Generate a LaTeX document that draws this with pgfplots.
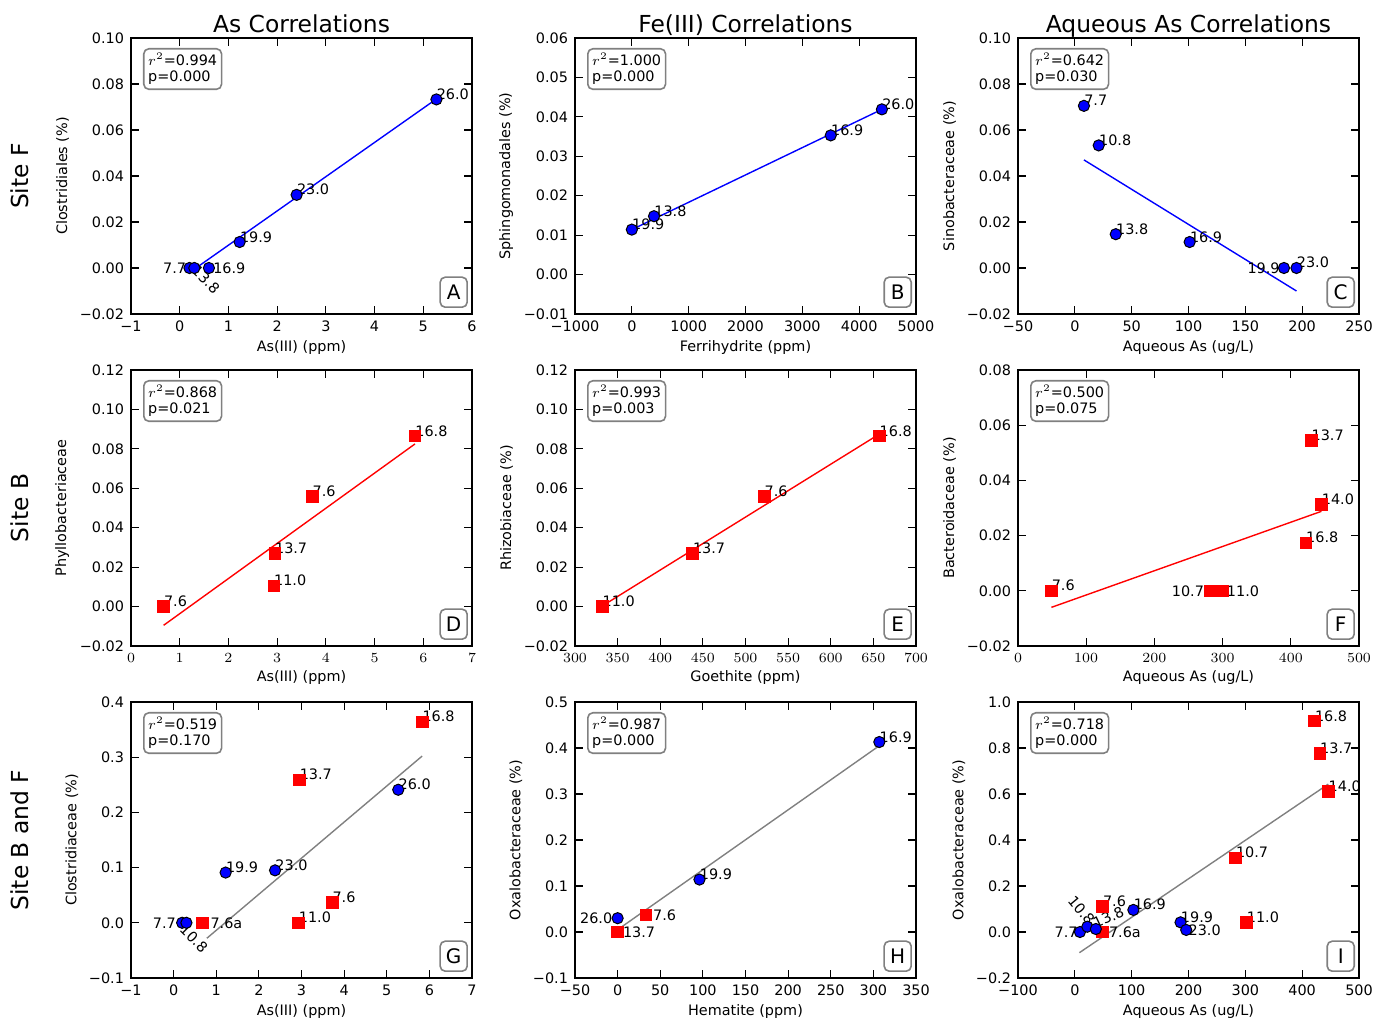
\documentclass[border=0pt]{standalone}
\usepackage{fontspec}
\setmainfont{DejaVu Sans}
\usepackage{pgfplots}
\pgfplotsset{compat=1.18}
\newcommand\sm{\fontsize{7.2}{8.1}\selectfont}
\newcommand\tfont{\fontsize{11.7}{14}\selectfont}
\newcommand\lfont{\fontsize{10}{12}\selectfont}
\pgfplotsset{
  panel/.style={
    width=170.5pt, height=138pt, scale only axis, anchor=north west,
    clip=false,
    axis line style={line width=0.8pt, black},
    every tick/.style={black, line width=0.6pt},
    major tick length=4pt,
    tick align=inside,
    ticklabel style={font=\sm},
    xlabel style={font=\sm, yshift=2.5pt},
    ylabel style={font=\sm, yshift=-1.5pt},
    title style={font=\tfont, at={(0.5,1)}, anchor=base, yshift=-3.4pt},
    scaled ticks=false,
  },
  bfit/.style={blue, line width=0.7pt, no marks},
  rfit/.style={red, line width=0.7pt, no marks},
  gfit/.style={gray, line width=0.7pt, no marks},
  bpt/.style={only marks, mark=*, mark size=2.8pt, mark options={fill=blue, draw=black, line width=0.5pt}},
  rpt/.style={only marks, mark=square*, mark size=2.9pt, mark options={fill=red, draw=red}},
}
\tikzset{
  lab/.style={font=\sm, inner sep=0pt, anchor=base west},
  rbox/.style={draw=gray, rounded corners=2.5pt, line width=0.8pt, anchor=north west, align=left, inner sep=2.2pt, font=\sm, xshift=6pt, yshift=-5pt},
  lbox/.style={draw=gray, rounded corners=2.5pt, line width=0.8pt, anchor=south east, font=\lfont, minimum width=13.5pt, minimum height=15pt, inner sep=0pt, xshift=-2pt, yshift=3pt},
  site/.style={font=\tfont, rotate=90},
}
\begin{document}
\begin{tikzpicture}
\useasboundingbox (0,0) rectangle (694.5pt,-510.5pt);

% ---------------- A
\begin{axis}[panel, at={(65.5pt,-19pt)}, title={As Correlations},
  xmin=-1, xmax=6, ymin=-0.02, ymax=0.10,
  xtick={-1,0,1,2,3,4,5,6}, xticklabels={−1,0,1,2,3,4,5,6},
  ytick={-0.02,0,0.02,0.04,0.06,0.08,0.10}, yticklabels={−0.02,0.00,0.02,0.04,0.06,0.08,0.10},
  xlabel={As(III) (ppm)}, ylabel={Clostridiales (\%)}]
\addplot[bfit] coordinates {(0.2,-0.0020) (5.27,0.0735)};
\addplot[bpt] coordinates {(0.2,0) (0.3,0) (0.6,0) (1.23,0.0113) (2.4,0.0318) (5.27,0.0733)};
\node[lab, anchor=east, xshift=-1.5pt] at (axis cs:0.2,0) {7.7};
\node[lab, anchor=west, rotate=-45] at (axis cs:0.3,0) {13.8};
\node[lab, anchor=west, xshift=2pt] at (axis cs:0.6,0) {16.9};
\node[lab] at (axis cs:1.23,0.0113) {19.9};
\node[lab] at (axis cs:2.4,0.0318) {23.0};
\node[lab] at (axis cs:5.27,0.0733) {26.0};
\node[rbox] at (rel axis cs:0,1) {$r^2$=0.994\\p=0.000};
\node[lbox] at (rel axis cs:1,0) {A};
\end{axis}

% ---------------- B
\begin{axis}[panel, at={(287.5pt,-19pt)}, title={Fe(III) Correlations},
  xmin=-1000, xmax=5000, ymin=-0.01, ymax=0.06,
  xtick={-1000,0,1000,2000,3000,4000,5000}, xticklabels={−1000,0,1000,2000,3000,4000,5000},
  ytick={-0.01,0,0.01,0.02,0.03,0.04,0.05,0.06}, yticklabels={−0.01,0.00,0.01,0.02,0.03,0.04,0.05,0.06},
  xlabel={Ferrihydrite (ppm)}, ylabel={Sphingomonadales (\%)}]
\addplot[bfit] coordinates {(0,0.0114) (4400,0.0419)};
\addplot[bpt] coordinates {(0,0.0114) (390,0.0148) (3500,0.0353) (4400,0.0419)};
\node[lab] at (axis cs:0,0.0114) {19.9};
\node[lab] at (axis cs:390,0.0148) {13.8};
\node[lab] at (axis cs:3500,0.0353) {16.9};
\node[lab] at (axis cs:4400,0.0419) {26.0};
\node[rbox] at (rel axis cs:0,1) {$r^2$=1.000\\p=0.000};
\node[lbox] at (rel axis cs:1,0) {B};
\end{axis}

% ---------------- C
\begin{axis}[panel, at={(509pt,-19pt)}, title={Aqueous As Correlations},
  xmin=-50, xmax=250, ymin=-0.02, ymax=0.10,
  xtick={-50,0,50,100,150,200,250}, xticklabels={−50,0,50,100,150,200,250},
  ytick={-0.02,0,0.02,0.04,0.06,0.08,0.10}, yticklabels={−0.02,0.00,0.02,0.04,0.06,0.08,0.10},
  xlabel={Aqueous As (ug/L)}, ylabel={Sinobacteraceae (\%)}]
\addplot[bfit] coordinates {(8,0.047) (195,-0.0100)};
\addplot[bpt] coordinates {(8,0.0705) (21,0.0533) (36,0.0147) (101,0.0113) (184,0) (195,0)};
\node[lab] at (axis cs:8,0.0705) {7.7};
\node[lab] at (axis cs:21,0.0533) {10.8};
\node[lab] at (axis cs:36,0.0147) {13.8};
\node[lab] at (axis cs:101,0.0113) {16.9};
\node[lab, anchor=east, xshift=-2pt] at (axis cs:184,0) {19.9};
\node[lab] at (axis cs:195,0) {23.0};
\node[rbox] at (rel axis cs:0,1) {$r^2$=0.642\\p=0.030};
\node[lbox] at (rel axis cs:1,0) {C};
\end{axis}

% ---------------- D
\begin{axis}[panel, at={(65.5pt,-185pt)},
  xmin=0, xmax=7, ymin=-0.02, ymax=0.12,
  xtick={0,1,2,3,4,5,6,7},
  ytick={-0.02,0,0.02,0.04,0.06,0.08,0.10,0.12}, yticklabels={−0.02,0.00,0.02,0.04,0.06,0.08,0.10,0.12},
  xlabel={As(III) (ppm)}, ylabel={Phyllobacteriaceae}]
\addplot[rfit] coordinates {(0.67,-0.0095) (5.83,0.0825)};
\addplot[rpt] coordinates {(0.67,0) (2.93,0.0105) (2.95,0.027) (3.72,0.056) (5.83,0.0865)};
\node[lab] at (axis cs:0.67,0) {7.6};
\node[lab] at (axis cs:2.93,0.0105) {11.0};
\node[lab] at (axis cs:2.95,0.027) {13.7};
\node[lab] at (axis cs:3.72,0.056) {7.6};
\node[lab] at (axis cs:5.83,0.0865) {16.8};
\node[rbox] at (rel axis cs:0,1) {$r^2$=0.868\\p=0.021};
\node[lbox] at (rel axis cs:1,0) {D};
\end{axis}

% ---------------- E
\begin{axis}[panel, at={(287.5pt,-185pt)},
  xmin=300, xmax=700, ymin=-0.02, ymax=0.12,
  xtick={300,350,400,450,500,550,600,650,700},
  ytick={-0.02,0,0.02,0.04,0.06,0.08,0.10,0.12}, yticklabels={−0.02,0.00,0.02,0.04,0.06,0.08,0.10,0.12},
  xlabel={Goethite (ppm)}, ylabel={Rhizobiaceae (\%)}]
\addplot[rfit] coordinates {(332,0.0003) (657,0.0875)};
\addplot[rpt] coordinates {(332,0) (438,0.027) (522,0.056) (657,0.0865)};
\node[lab] at (axis cs:332,0) {11.0};
\node[lab] at (axis cs:438,0.027) {13.7};
\node[lab] at (axis cs:522,0.056) {7.6};
\node[lab] at (axis cs:657,0.0865) {16.8};
\node[rbox] at (rel axis cs:0,1) {$r^2$=0.993\\p=0.003};
\node[lbox] at (rel axis cs:1,0) {E};
\end{axis}

% ---------------- F
\begin{axis}[panel, at={(509pt,-185pt)},
  xmin=0, xmax=500, ymin=-0.02, ymax=0.08,
  xtick={0,100,200,300,400,500},
  ytick={-0.02,0,0.02,0.04,0.06,0.08}, yticklabels={−0.02,0.00,0.02,0.04,0.06,0.08},
  xlabel={Aqueous As (ug/L)}, ylabel={Bacteroidaceae (\%)}]
\addplot[rfit] coordinates {(49,-0.006) (445,0.0288)};
\addplot[rpt] coordinates {(49,0) (282,0) (300,0) (422,0.0174) (430,0.0545) (445,0.0312)};
\node[lab] at (axis cs:49,0) {7.6};
\node[lab, anchor=east, xshift=-3pt] at (axis cs:282,0) {10.7};
\node[lab, anchor=west, xshift=2pt] at (axis cs:300,0) {11.0};
\node[lab] at (axis cs:422,0.0174) {16.8};
\node[lab] at (axis cs:430,0.0545) {13.7};
\node[lab] at (axis cs:445,0.0312) {14.0};
\node[rbox] at (rel axis cs:0,1) {$r^2$=0.500\\p=0.075};
\node[lbox] at (rel axis cs:1,0) {F};
\end{axis}

% ---------------- G
\begin{axis}[panel, at={(65.5pt,-351pt)},
  xmin=-1, xmax=7, ymin=-0.1, ymax=0.4,
  xtick={-1,0,1,2,3,4,5,6,7}, xticklabels={−1,0,1,2,3,4,5,6,7},
  ytick={-0.1,0,0.1,0.2,0.3,0.4}, yticklabels={−0.1,0.0,0.1,0.2,0.3,0.4},
  xlabel={As(III) (ppm)}, ylabel={Clostridiaceae (\%)}]
\addplot[gfit] coordinates {(0.78,-0.028) (5.83,0.302)};
\addplot[rpt] coordinates {(0.67,0) (2.93,0) (2.95,0.259) (3.72,0.037) (5.83,0.364)};
\addplot[bpt] coordinates {(0.2,0) (0.3,0) (1.22,0.091) (2.38,0.095) (5.27,0.241)};
\node[lab, anchor=east, xshift=-3pt] at (axis cs:0.2,0) {7.7};
\node[lab, anchor=north west, rotate=-45] at (axis cs:0.3,0) {10.8};
\node[lab, anchor=west, xshift=4pt] at (axis cs:0.67,0) {7.6a};
\node[lab] at (axis cs:1.22,0.091) {19.9};
\node[lab] at (axis cs:2.38,0.095) {23.0};
\node[lab] at (axis cs:5.27,0.241) {26.0};
\node[lab] at (axis cs:2.95,0.259) {13.7};
\node[lab] at (axis cs:2.93,0) {11.0};
\node[lab] at (axis cs:3.72,0.037) {7.6};
\node[lab] at (axis cs:5.83,0.364) {16.8};
\node[rbox] at (rel axis cs:0,1) {$r^2$=0.519\\p=0.170};
\node[lbox] at (rel axis cs:1,0) {G};
\end{axis}

% ---------------- H
\begin{axis}[panel, at={(287.5pt,-351pt)},
  xmin=-50, xmax=350, ymin=-0.1, ymax=0.5,
  xtick={-50,0,50,100,150,200,250,300,350}, xticklabels={−50,0,50,100,150,200,250,300,350},
  ytick={-0.1,0,0.1,0.2,0.3,0.4,0.5}, yticklabels={−0.1,0.0,0.1,0.2,0.3,0.4,0.5},
  xlabel={Hematite (ppm)}, ylabel={Oxalobacteraceae (\%)}]
\addplot[gfit] coordinates {(0,0.005) (307,0.405)};
\addplot[rpt] coordinates {(0,0) (33,0.037)};
\addplot[bpt] coordinates {(0,0.03) (96,0.114) (307,0.413)};
\node[lab, anchor=east, xshift=-2.5pt] at (axis cs:0,0.03) {26.0};
\node[lab, anchor=west, xshift=2.5pt] at (axis cs:0,0) {13.7};
\node[lab, anchor=west, xshift=3.5pt] at (axis cs:33,0.037) {7.6};
\node[lab] at (axis cs:96,0.114) {19.9};
\node[lab] at (axis cs:307,0.413) {16.9};
\node[rbox] at (rel axis cs:0,1) {$r^2$=0.987\\p=0.000};
\node[lbox] at (rel axis cs:1,0) {H};
\end{axis}

% ---------------- I
\begin{axis}[panel, at={(509pt,-351pt)},
  xmin=-100, xmax=500, ymin=-0.2, ymax=1.0,
  xtick={-100,0,100,200,300,400,500}, xticklabels={−100,0,100,200,300,400,500},
  ytick={-0.2,0,0.2,0.4,0.6,0.8,1.0}, yticklabels={−0.2,0.0,0.2,0.4,0.6,0.8,1.0},
  xlabel={Aqueous As (ug/L)}, ylabel={Oxalobacteraceae (\%)}]
\addplot[gfit] coordinates {(8,-0.090) (446,0.643)};
\addplot[rpt] coordinates {(49,0) (49,0.11) (283,0.323) (302,0.042) (422,0.917) (431,0.777) (446,0.61)};
\addplot[bpt] coordinates {(9,0) (22,0.023) (37,0.013) (103,0.096) (186,0.042) (196,0.009)};
\node[lab, anchor=east, xshift=-1pt] at (axis cs:9,0) {7.7};
\node[lab, anchor=east, rotate=-50, yshift=3pt] at (axis cs:22,0.023) {10.8};
\node[lab, rotate=25] at (axis cs:37,0.013) {13.8};
\node[lab] at (axis cs:103,0.096) {16.9};
\node[lab] at (axis cs:186,0.042) {19.9};
\node[lab, anchor=west, xshift=1pt] at (axis cs:196,0.009) {23.0};
\node[lab, anchor=west, xshift=3pt] at (axis cs:49,0) {7.6a};
\node[lab] at (axis cs:49,0.11) {7.6};
\node[lab] at (axis cs:283,0.323) {10.7};
\node[lab] at (axis cs:302,0.042) {11.0};
\node[lab] at (axis cs:422,0.917) {16.8};
\node[lab] at (axis cs:431,0.777) {13.7};
\node[lab] at (axis cs:446,0.61) {14.0};
\node[rbox] at (rel axis cs:0,1) {$r^2$=0.718\\p=0.000};
\node[lbox] at (rel axis cs:1,0) {I};
\end{axis}

\node[site] at (10pt,-88pt) {Site F};
\node[site] at (10pt,-254pt) {Site B};
\node[site] at (10pt,-420pt) {Site B and F};
\end{tikzpicture}
\end{document}
